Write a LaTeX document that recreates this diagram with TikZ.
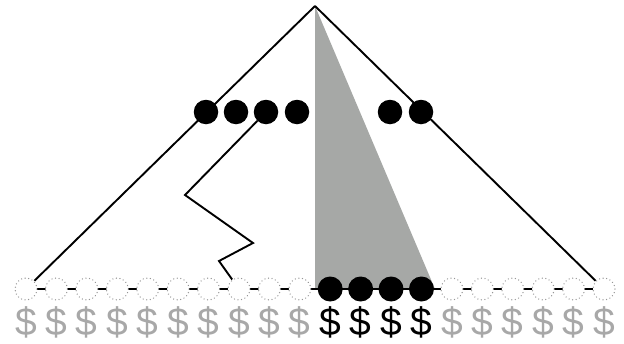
\documentclass[tikz,border=0pt]{standalone}
\usepackage{fontspec}
\setmainfont{Liberation Sans}
\definecolor{trigray}{RGB}{166,168,166}
\definecolor{dgray}{RGB}{168,168,168}
\definecolor{cgray}{RGB}{150,150,150}
\begin{document}
\begin{tikzpicture}[x=1pt,y=-1pt,
  mainline/.style={line width=1.9pt,black},
  emptycirc/.style={circle,minimum size=22pt,inner sep=0pt,fill=white,draw=cgray,line width=1.4pt,dash pattern=on 0.01pt off 3.6pt,line cap=round},
  fullcirc/.style={circle,minimum size=25pt,inner sep=0pt,fill=black},
  middot/.style={circle,minimum size=24.5pt,inner sep=0pt,fill=black},
  dollar/.style={font=\fontsize{39}{39}\selectfont,inner sep=0pt,text=dgray},
  dollarblack/.style={dollar,text=black}]
\useasboundingbox (0,0) rectangle (624,343);
\coordinate (apex) at (315,6);
\coordinate (tb) at (315,289);
\coordinate (tr) at (435,289);
\fill[trigray] (apex) -- (tb) -- (tr) -- cycle;
% bottom line
\coordinate (L) at (26,289);
\coordinate (R) at (604,289);
\draw[line width=1.9pt] (L) -- (R);
% bottom circles
\foreach \i in {0,...,19}{
  \pgfmathsetmacro\xx{26+\i*30.42}
  \ifnum\i<10
    \node[emptycirc] (b\i) at (\xx,289) {};
    \node[dollar] (d\i) at (\xx,322) {\$};
  \else\ifnum\i>13
    \node[emptycirc] (b\i) at (\xx,289) {};
    \node[dollar] (d\i) at (\xx,322) {\$};
  \else
    \node[fullcirc] (b\i) at (\xx,289) {};
    \node[dollarblack] (d\i) at (\xx,322) {\$};
  \fi\fi
}
% main lines
\draw[mainline] (apex) -- (b0);
\draw[mainline] (apex) -- (b19);
% middle dots
\node[middot] (m1) at (206,112) {};
\node[middot] (m2) at (236,112) {};
\node[middot] (m3) at (266,112) {};
\node[middot] (m4) at (297,112) {};
\node[middot] (m5) at (390,112) {};
\node[middot] (m6) at (421,112) {};
% zigzag
\coordinate (z1) at (185,195);
\coordinate (z2) at (253,243);
\coordinate (z3) at (219,261);
\draw[mainline,line join=miter] (m3) -- (z1) -- (z2) -- (z3) -- (b7);
\end{tikzpicture}
\end{document}
